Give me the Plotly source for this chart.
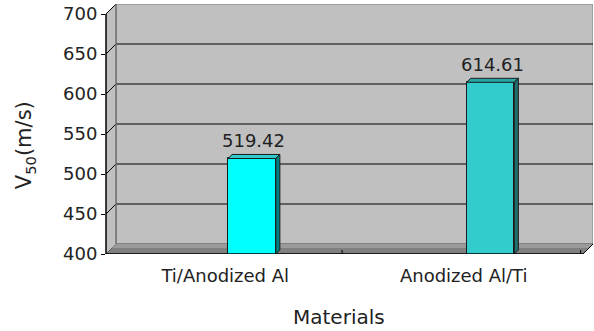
import plotly.graph_objects as go

categories = ["Ti/Anodized Al", "Anodized Al/Ti"]
values = [519.42, 614.61]
value_labels = ["519.42", "614.61"]
front_colors = ["#00FFFF", "#33CCCC"]
top_colors = ["#33CCCC", "#2AA5A5"]
side_colors = ["#008080", "#1F6F6F"]
y_ticks = [400, 450, 500, 550, 600, 650, 700]

FONT = "DejaVu Sans"
TXT = "#222222"
Y0, Y1 = 400, 700
DX, DY = 0.042, 12.5      # depth of the 3D box (data units)
BW, BOFF = 0.2, 0.012     # bar width / offset
BDX, BDY = 0.017, 5       # depth of the bars

fig = go.Figure()
fig.add_trace(go.Bar(
    x=categories, y=values, width=BW, offset=BOFF,
    marker=dict(color=front_colors, line=dict(color="#1a1a1a", width=1)),
    hoverinfo="x+y",
))

shapes = []
# back wall
shapes.append(dict(type="rect", xref="x", yref="y", x0=-0.5 + DX, x1=1.5 + DX, y0=Y0 + DY, y1=Y1 + DY,
                   fillcolor="#C0C0C0", line=dict(color="#808080", width=1), layer="below"))
# left wall
shapes.append(dict(type="path", xref="x", yref="y",
                   path=f"M -0.5 {Y0} L -0.5 {Y1} L {-0.5+DX} {Y1+DY} L {-0.5+DX} {Y0+DY} Z",
                   fillcolor="#C0C0C0", line=dict(width=0), layer="below"))
# floor
shapes.append(dict(type="path", xref="x", yref="y",
                   path=f"M -0.5 {Y0} L 1.5 {Y0} L {1.5+DX} {Y0+DY} L {-0.5+DX} {Y0+DY} Z",
                   fillcolor="#808080", line=dict(color="#606060", width=1), layer="below"))
# lighter strip at the back of the floor
shapes.append(dict(type="path", xref="x", yref="y",
                   path=f"M {-0.5+DX*0.6} {Y0+DY*0.6} L {1.5+DX*0.6} {Y0+DY*0.6} L {1.5+DX} {Y0+DY} L {-0.5+DX} {Y0+DY} Z",
                   fillcolor="#9A9A9A", line=dict(width=0), layer="below"))
# gridlines on back & left wall
for t in y_ticks[1:-1]:
    shapes.append(dict(type="line", xref="x", yref="y", x0=-0.5 + DX, x1=1.5 + DX, y0=t + DY, y1=t + DY,
                       line=dict(color="#000000", width=1), layer="below"))
for t in y_ticks[1:]:
    shapes.append(dict(type="line", xref="x", yref="y", x0=-0.5, x1=-0.5 + DX, y0=t, y1=t + DY,
                       line=dict(color="#000000", width=1), layer="below"))
# back wall left edge
shapes.append(dict(type="line", xref="x", yref="y", x0=-0.5 + DX, x1=-0.5 + DX, y0=Y0 + DY, y1=Y1 + DY,
                   line=dict(color="#707070", width=1.5), layer="below"))
# front axis line and floor front edge
shapes.append(dict(type="line", xref="paper", yref="y", x0=0, x1=0, y0=Y0, y1=Y1,
                   line=dict(color="#000000", width=1.5)))
shapes.append(dict(type="line", xref="x", yref="y", x0=-0.5, x1=1.5, y0=Y0, y1=Y0,
                   line=dict(color="#000000", width=1.5)))
shapes.append(dict(type="line", xref="x", yref="y", x0=1.5, x1=1.5 + DX, y0=Y0, y1=Y0 + DY,
                   line=dict(color="#000000", width=1)))
for xt in (0.5, 1.5):
    shapes.append(dict(type="line", xref="x", yref="y", x0=xt - 0.01, x1=xt - 0.01, y0=Y0, y1=Y0 + 5,
                       line=dict(color="#000000", width=1)))

# 3D faces of bars
annotations = []
for i, v in enumerate(values):
    x0 = i + BOFF
    x1 = x0 + BW
    shapes.append(dict(type="path", xref="x", yref="y",
                       path=f"M {x0} {v} L {x0+BDX} {v+BDY} L {x1+BDX} {v+BDY} L {x1} {v} Z",
                       fillcolor=top_colors[i], line=dict(color="#1a1a1a", width=1)))
    shapes.append(dict(type="path", xref="x", yref="y",
                       path=f"M {x1} {Y0} L {x1+BDX} {Y0+BDY} L {x1+BDX} {v+BDY} L {x1} {v} Z",
                       fillcolor=side_colors[i], line=dict(color="#1a1a1a", width=1)))
    annotations.append(dict(x=(x0 + x1 + BDX) / 2, y=v, xref="x", yref="y", text=value_labels[i],
                            showarrow=False, xanchor="center", yanchor="middle", yshift=18,
                            font=dict(family=FONT, size=18, color=TXT)))

annotations.append(dict(x=-0.166, y=0.436, xref="paper", yref="paper", text="V<sub>50</sub>(m/s)",
                        textangle=-90, showarrow=False, xanchor="center", yanchor="middle",
                        font=dict(family=FONT, size=21, color=TXT)))
annotations.append(dict(x=0.478, y=-0.252, xref="paper", yref="paper", text="Materials",
                        showarrow=False, xanchor="center", yanchor="middle",
                        font=dict(family=FONT, size=20, color=TXT)))

fig.update_layout(
    width=594, height=331,
    margin=dict(l=106, r=1, t=4, b=77),
    paper_bgcolor="white", plot_bgcolor="white",
    showlegend=False, bargap=0,
    shapes=shapes, annotations=annotations,
    font=dict(family=FONT, size=17, color=TXT),
)
fig.update_xaxes(range=[-0.5, 1.5 + DX], showgrid=False, zeroline=False, showline=False,
                 ticks="", ticklabelstandoff=9, tickfont=dict(family=FONT, size=18, color=TXT))
fig.update_yaxes(range=[Y0, Y1 + DY], tickvals=y_ticks, showgrid=False, zeroline=False, showline=False,
                 ticks="outside", ticklen=4, tickcolor="#000000",
                 tickfont=dict(family=FONT, size=18, color=TXT))

fig.write_html("out.html", config={"displayModeBar": False},
               post_script="document.body.style.margin='0';")
